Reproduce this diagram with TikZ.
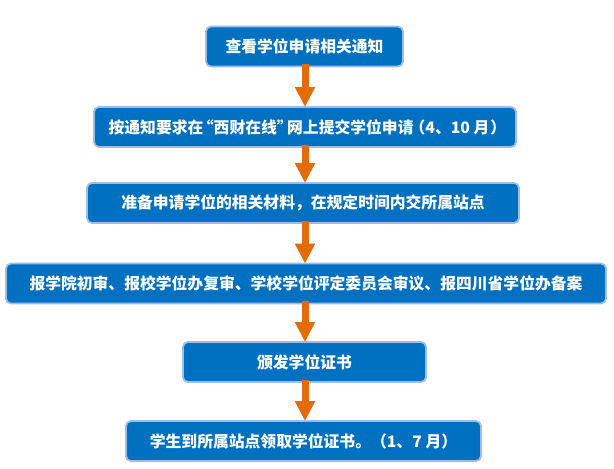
\documentclass[tikz,border=0pt]{standalone}
\usepackage{fontspec}
\newfontfamily\cjk{Noto Sans CJK SC}
\usetikzlibrary{arrows.meta}
\definecolor{boxblue}{HTML}{0070C0}
\definecolor{boxedge}{HTML}{9DBCE6}
\definecolor{arroworange}{HTML}{E36C09}
\begin{document}
\begin{tikzpicture}[x=1pt,y=-1pt,
  stepbox/.style={draw=boxedge, line width=1.8pt, fill=boxblue, rounded corners=5pt,
    text=white, font=\cjk\bfseries\fontsize{15.8pt}{18pt}\selectfont, inner sep=0pt,
    minimum height=40pt},
  flow/.style={draw=arroworange, line width=7pt, -{Triangle[length=20pt,width=19pt]}}]
\useasboundingbox (0,0) rectangle (614,469);
\node[stepbox, minimum width=197pt] (b1) at (304.5,46.5) {查看学位申请相关通知};
\node[stepbox, minimum width=422pt] (b2) at (305,127) {按通知要求在\kern-0.35em“西财在线”\kern-0.35em网上提交学位申请\kern-0.25em（4、10 月\kern0.05em）\kern-0.3em};
\node[stepbox, minimum width=432pt] (b3) at (303,203) {准备申请学位的相关材料，在规定时间内交所属站点};
\node[stepbox, minimum width=600pt] (b4) at (306,283.5) {报学院初审、报校学位办复审、学校学位评定委员会审议、报四川省学位办备案};
\node[stepbox, minimum width=243pt] (b5) at (304.5,362) {颁发学位证书};
\node[stepbox, minimum width=355pt] (b6) at (303.5,441) {学生到所属站点领取学位证书。（1、7 月）};
\draw[flow] ([yshift=3pt]b1.south -| 305,0) -- ([yshift=-1pt]b2.north -| 305,0);
\draw[flow] ([yshift=3pt]b2.south -| 305,0) -- ([yshift=-1pt]b3.north -| 305,0);
\draw[flow] ([yshift=3pt]b3.south -| 305,0) -- ([yshift=-1pt]b4.north -| 305,0);
\draw[flow] ([yshift=3pt]b4.south -| 305,0) -- ([yshift=-1pt]b5.north -| 305,0);
\draw[flow] ([yshift=3pt]b5.south -| 305,0) -- ([yshift=-1pt]b6.north -| 305,0);
\end{tikzpicture}
\end{document}
